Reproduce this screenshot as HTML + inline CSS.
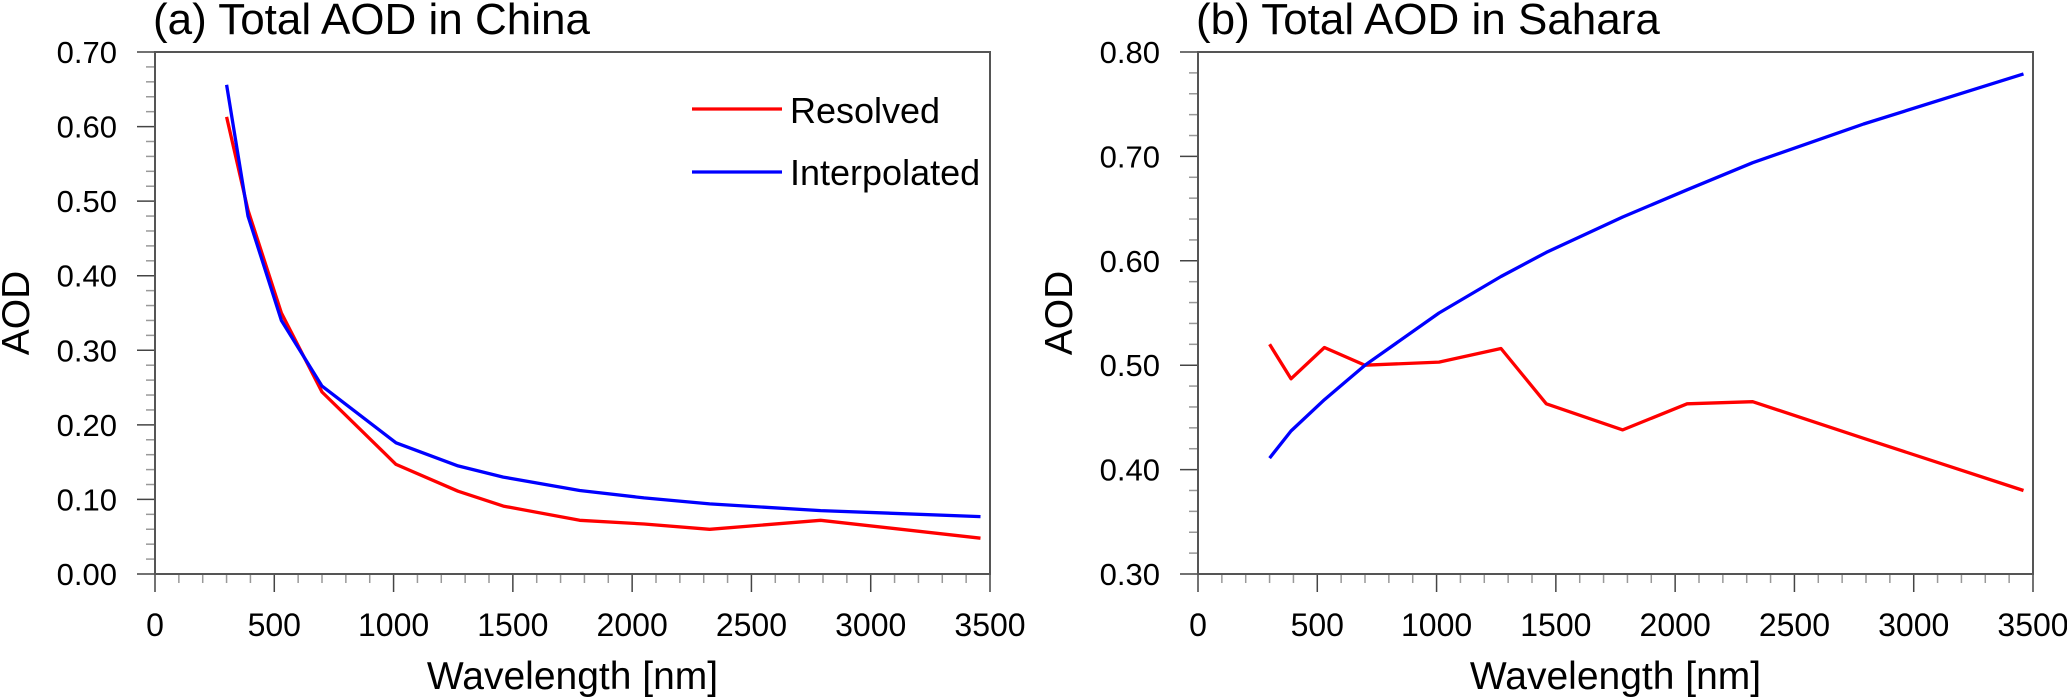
<!DOCTYPE html>
<html><head><meta charset="utf-8"><style>
html,body{margin:0;padding:0;background:#fff;}
svg{display:block;font-family:"Liberation Sans",sans-serif;}
</style></head><body>
<svg id="chart" width="2067" height="698" viewBox="0 0 2067 698"></svg>
<script>
const wavelengths = [300, 390, 530, 700, 1010, 1270, 1460, 1780, 2050, 2325, 2790, 3460];
const chinaResolved = [0.613, 0.488, 0.350, 0.244, 0.147, 0.111, 0.091, 0.072, 0.067, 0.060, 0.072, 0.048];
const chinaInterp   = [0.656, 0.480, 0.340, 0.252, 0.176, 0.145, 0.130, 0.112, 0.102, 0.094, 0.085, 0.077];
const saharaResolved = [0.520, 0.487, 0.517, 0.500, 0.503, 0.516, 0.463, 0.438, 0.463, 0.465, 0.430, 0.380];
const saharaInterp   = [0.411, 0.437, 0.467, 0.500, 0.550, 0.585, 0.608, 0.642, 0.668, 0.694, 0.731, 0.779];
const xTicks = [0, 500, 1000, 1500, 2000, 2500, 3000, 3500];
const yTicksA = ["0.00","0.10","0.20","0.30","0.40","0.50","0.60","0.70"];
const yTicksB = ["0.30","0.40","0.50","0.60","0.70","0.80"];

const NS = "http://www.w3.org/2000/svg";
const svg = document.getElementById('chart');
function mk(tag, attrs, parent, text){
  const e = document.createElementNS(NS, tag);
  for (const k in attrs) e.setAttribute(k, attrs[k]);
  if (text !== undefined) e.textContent = text;
  (parent || svg).appendChild(e);
  return e;
}

function panel(id, left, title, yTicks, ymin, ymax, resolved, interp, legend){
  const right = left + 835, top = 52, bottom = 574;
  const g = mk('g', {});
  
  
  const xs = v => left + (v - 0) / 3500 * (right - left);
  const ys = v => bottom - (v - ymin) / (ymax - ymin) * (bottom - top);

  for (let v = 0; v <= 3500; v += 100) {
    const t = mk('line', {x1: xs(v), x2: xs(v), y1: bottom, y2: v % 500 === 0 ? bottom + 18 : bottom + 9,
      stroke: v % 500 === 0 ? '#444' : '#999', 'stroke-width': 1.5}, g);
    
    
  }
  const steps = Math.round((ymax - ymin) / 0.02);
  for (let i = 0; i <= steps; i++) {
    const v = ymin + i * 0.02;
    const major = i % 5 === 0;
    const t = mk('line', {x1: major ? left - 18 : left - 9, x2: left, y1: ys(v), y2: ys(v),
      stroke: major ? '#444' : '#999', 'stroke-width': 1.5}, g);
    
    
  }
  const fr = mk('rect', {x: left, y: top, width: right - left, height: bottom - top, fill: 'none', stroke: '#555', 'stroke-width': 2}, g);
  
  

  xTicks.forEach(v => {
    const t = mk('text', {x: xs(v), y: 636, 'text-anchor': 'middle', 'font-size': 32}, g, String(v));
    
    
  });
  yTicks.forEach(s => {
    const t = mk('text', {x: left - 38, y: ys(parseFloat(s)) + 11, 'text-anchor': 'end', 'font-size': 31}, g, s);
    
    
  });
  const tt = mk('text', {x: left - 2, y: 34, 'font-size': 44}, g, title);
  
  
  const xt = mk('text', {x: (left + right) / 2, y: 689, 'text-anchor': 'middle', 'font-size': 39}, g, 'Wavelength [nm]');
  
  
  const cy = (top + bottom) / 2;
  const yt = mk('text', {x: left - 126, y: cy, 'text-anchor': 'middle', 'font-size': 39, transform: `rotate(-90 ${left - 126} ${cy})`}, g, 'AOD');
  
  

  const line = (vals, color, name) => {
    const pts = vals.map((v, i) => xs(wavelengths[i]).toFixed(1) + ',' + ys(v).toFixed(1)).join(' ');
    const p = mk('polyline', {points: pts, fill: 'none', stroke: color, 'stroke-width': 3.3, 'stroke-linejoin': 'round'}, g);
    
    
  };
  line(resolved, '#ff0000', 'resolved-line');
  line(interp, '#0000ff', 'interpolated-line');

  if (legend) {
    const lg = mk('g', {}, g);
    
    
    [['Resolved', '#ff0000', 109, 123], ['Interpolated', '#0000ff', 172, 185]].forEach(([lab, c, ly, ty]) => {
      const l = mk('line', {x1: 692, x2: 782, y1: ly, y2: ly, stroke: c, 'stroke-width': 3.3}, lg);
      
      
      const t = mk('text', {x: 790, y: ty, 'font-size': 36}, lg, lab);
      
      
    });
  }
}
panel('panel-china', 155, '(a) Total AOD in China', yTicksA, 0, 0.7, chinaResolved, chinaInterp, true);
panel('panel-sahara', 1198, '(b) Total AOD in Sahara', yTicksB, 0.3, 0.8, saharaResolved, saharaInterp, false);
</script>
</body></html>
